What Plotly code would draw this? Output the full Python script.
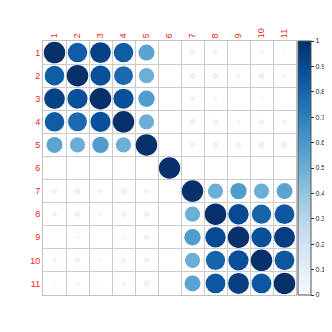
import numpy as np
import plotly.graph_objects as go

labels = [str(i) for i in range(1, 12)]

# correlation matrix blocks
block_a = [
    [1.00, 0.83, 0.93, 0.83, 0.55],
    [0.83, 1.00, 0.88, 0.78, 0.50],
    [0.93, 0.88, 1.00, 0.88, 0.58],
    [0.83, 0.78, 0.88, 1.00, 0.50],
    [0.55, 0.50, 0.58, 0.50, 1.00],
]
block_b = [
    [1.00, 0.50, 0.58, 0.50, 0.55],
    [0.50, 1.00, 0.90, 0.80, 0.85],
    [0.58, 0.90, 1.00, 0.88, 0.95],
    [0.50, 0.80, 0.88, 1.00, 0.85],
    [0.55, 0.85, 0.95, 0.85, 1.00],
]
# rows 7..11 vs columns 1..5
cross = [
    [0.06, 0.07, 0.05, 0.07, 0.06],
    [0.05, 0.07, 0.03, 0.06, 0.07],
    [0.01, 0.04, 0.00, 0.04, 0.06],
    [0.05, 0.07, 0.03, 0.06, 0.07],
    [0.03, 0.05, 0.01, 0.05, 0.07],
]
var6 = 1.00

n = 11
M = np.zeros((n, n))
M[0:5, 0:5] = block_a
M[6:11, 6:11] = block_b
M[6:11, 0:5] = cross
M[0:5, 6:11] = np.array(cross).T
M[5, 5] = var6

xs, ys, vals = [], [], []
for i in range(n):
    for j in range(n):
        xs.append(j + 1)
        ys.append(i + 1)
        vals.append(M[i, j])
vals = np.array(vals)

DMAX = 21.5
sizes = DMAX * np.sqrt(np.abs(vals))

blues = ["#F7FBFF", "#DEEBF7", "#C6DBEF", "#9ECAE1", "#6BAED6",
         "#4292C6", "#2171B5", "#08519C", "#08306B"]
cscale = [[k / (len(blues) - 1), c] for k, c in enumerate(blues)]

fig = go.Figure()
fig.add_trace(go.Scatter(
    x=xs, y=ys, mode="markers",
    marker=dict(
        size=sizes, sizemode="diameter", opacity=1,
        color=np.abs(vals), colorscale=cscale, cmin=0, cmax=1,
        line=dict(width=0),
        showscale=True,
        colorbar=dict(
            thickness=13, len=1.0, lenmode="fraction", y=0.5, yanchor="middle",
            x=1.006, xanchor="left", xpad=0, ypad=0,
            outlinecolor="#555555", outlinewidth=1,
            tickvals=[round(0.1 * k, 1) for k in range(11)],
            ticktext=["0"] + [f"{0.1*k:.1f}" for k in range(1, 10)] + ["1"],
            ticks="outside", ticklen=3, tickcolor="#333333",
            tickfont=dict(size=7, color="#222222", family="Liberation Sans, Arial"),
        ),
    ),
    hoverinfo="skip",
))

grid = [k + 0.5 for k in range(0, n + 1)]
axis_common = dict(
    tickvals=list(range(1, n + 1)),
    ticktext=labels,
    showgrid=False, zeroline=False,
    tickfont=dict(size=9, color="#FF2020", family="Liberation Sans, Arial"),
    ticks="",
    automargin=False,
    minor=dict(tickvals=grid, showgrid=True, gridcolor="#CCCCCC", gridwidth=1, ticks=""),
    showline=True, mirror=True, linecolor="#C0C0C0", linewidth=1,
)

fig.update_layout(
    width=324, height=300,
    margin=dict(l=35, r=36, t=33, b=13, autoexpand=False),
    paper_bgcolor="white", plot_bgcolor="white",
    showlegend=False,
    xaxis=dict(axis_common, side="top", tickangle=-90, range=[0.5, n + 0.5]),
    yaxis=dict(axis_common, range=[n + 0.5, 0.5], autorange=False),
)

fig.write_html("out.html")
